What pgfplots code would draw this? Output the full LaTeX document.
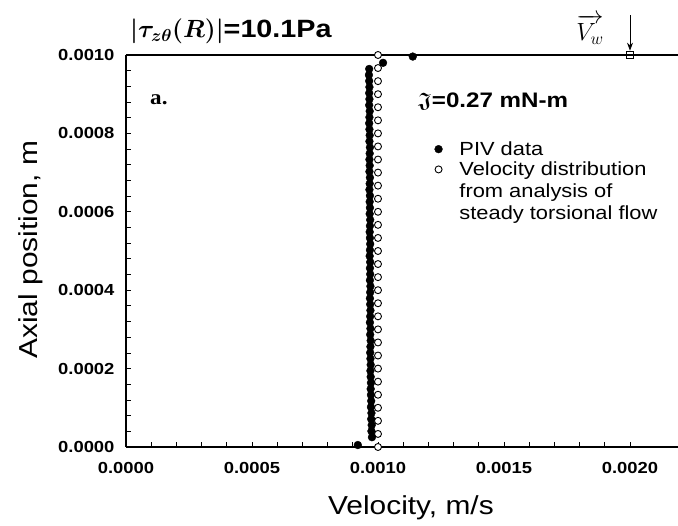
\documentclass[border=0pt]{standalone}
\usepackage{amsmath}
\usepackage{amssymb}
\usepackage{pgfplots}
\pgfplotsset{compat=1.18}
\usetikzlibrary{arrows.meta}
\usepackage{fontspec}
\setmainfont{Liberation Sans}[FakeStretch=1.15]
\newfontfamily\seriffont{Liberation Serif}[FakeStretch=1.1]

\newcommand\stresstext{{\fontsize{25}{25}\selectfont$\boldsymbol{\lvert\tau_{z\theta}(R)\rvert}$\bfseries=10.1Pa}}
\newcommand\torquetext{{\fontsize{21}{21}\selectfont$\boldsymbol{\mathfrak{J}}$\bfseries=0.27 mN-m}}
\newcommand\paneltext{{\seriffont\bfseries\fontsize{21}{21}\selectfont a.}}
\newcommand\walltext{{\fontsize{23}{23}\selectfont$\overrightarrow{V_w}$}}

\begin{document}
\begin{tikzpicture}[x=1pt,y=1pt]
\useasboundingbox (0,0) rectangle (678,526);
\begin{axis}[
  at={(126pt,79pt)}, anchor=south west,
  scale only axis,
  width=554.4pt, height=392pt,
  xmin=0, xmax=0.0022,
  ymin=0, ymax=0.0010,
  axis x line=box, axis y line=left,
  y axis line style={-},
  axis line style={line width=1.6pt},
  xtick={0,0.0005,0.0010,0.0015,0.0020},
  ytick={0,0.0002,0.0004,0.0006,0.0008,0.0010},
  minor x tick num=4, minor y tick num=4,
  xtick pos=bottom, ytick pos=left,
  tick align=inside,
  major tick length=5pt, minor tick length=5pt,
  tick style={line width=0.8pt, black},
  scaled ticks=false,
  /pgf/number format/.cd, fixed, fixed zerofill, precision=4, assume math mode=true,
  /pgfplots/.cd,
  ticklabel style={font=\bfseries\fontsize{16}{16}\selectfont},
  xticklabel style={yshift=-12pt},
  yticklabel style={xshift=-8pt},
  xlabel={Velocity, m/s},
  ylabel={Axial position, m},
  label style={font=\fontsize{26}{26}\selectfont},
  xlabel style={at={(axis description cs:0.514,0)}, anchor=base, yshift=-68pt},
  ylabel style={at={(axis description cs:0,0.503)}, anchor=base, yshift=88pt},
  clip=false,
  legend style={draw=none, fill=none, at={(axis description cs:0.551,0.79)}, anchor=north west,
    font=\fontsize{19}{22}\selectfont, row sep=1pt,
    /tikz/every odd column/.append style={column sep=15pt}},
  legend cell align=left,
  reverse legend,
]
% analytical steady torsional flow profile
\addplot[only marks, mark=*, mark size=3.5pt, mark options={fill=white, draw=black, line width=0.9pt}]
  coordinates {
  (0.0010,0.0000000) (0.0010,0.0000333) (0.0010,0.0000667) (0.0010,0.0001000)
  (0.0010,0.0001333) (0.0010,0.0001667) (0.0010,0.0002000) (0.0010,0.0002333)
  (0.0010,0.0002667) (0.0010,0.0003000) (0.0010,0.0003333) (0.0010,0.0003667)
  (0.0010,0.0004000) (0.0010,0.0004333) (0.0010,0.0004667) (0.0010,0.0005000)
  (0.0010,0.0005333) (0.0010,0.0005667) (0.0010,0.0006000) (0.0010,0.0006333)
  (0.0010,0.0006667) (0.0010,0.0007000) (0.0010,0.0007333) (0.0010,0.0007667)
  (0.0010,0.0008000) (0.0010,0.0008333) (0.0010,0.0008667) (0.0010,0.0009000)
  (0.0010,0.0009333) (0.0010,0.0009667) (0.0010,0.0010000)
  };
\addlegendentry{\parbox[t]{7cm}{Velocity distribution\\from analysis of\\steady torsional flow}}
% PIV measurements
\addplot[only marks, mark=*, mark size=3.9pt, mark options={fill=black, draw=black}]
  coordinates {
  (0.000920,0.0000050)
  (0.000976,0.0000250) (0.000974,0.0000404) (0.000975,0.0000558) (0.000973,0.0000712)
  (0.000974,0.0000866) (0.000972,0.0001020) (0.000973,0.0001174) (0.000972,0.0001328)
  (0.000971,0.0001482) (0.000972,0.0001636) (0.000971,0.0001790) (0.000970,0.0001944)
  (0.000971,0.0002098) (0.000970,0.0002252) (0.000969,0.0002406) (0.000970,0.0002560)
  (0.000971,0.0002714) (0.000969,0.0002868) (0.000970,0.0003022) (0.000968,0.0003176)
  (0.000969,0.0003330) (0.000970,0.0003484) (0.000969,0.0003638) (0.000968,0.0003792)
  (0.000969,0.0003946) (0.000970,0.0004100) (0.000968,0.0004254) (0.000969,0.0004408)
  (0.000968,0.0004562) (0.000969,0.0004716) (0.000967,0.0004870) (0.000968,0.0005024)
  (0.000969,0.0005178) (0.000968,0.0005332) (0.000967,0.0005486) (0.000968,0.0005640)
  (0.000969,0.0005794) (0.000967,0.0005948) (0.000968,0.0006102) (0.000967,0.0006256)
  (0.000968,0.0006410) (0.000966,0.0006564) (0.000967,0.0006718) (0.000968,0.0006872)
  (0.000966,0.0007026) (0.000967,0.0007180) (0.000966,0.0007334) (0.000967,0.0007488)
  (0.000968,0.0007642) (0.000966,0.0007796) (0.000967,0.0007950) (0.000966,0.0008104)
  (0.000965,0.0008258) (0.000966,0.0008412) (0.000967,0.0008566) (0.000965,0.0008720)
  (0.000966,0.0008874) (0.000965,0.0009028) (0.000966,0.0009182) (0.000965,0.0009336)
  (0.000964,0.0009490) (0.000965,0.0009644)
  (0.001020,0.0009800) (0.001138,0.0009960)
  };
\addlegendentry{PIV data}
% wall velocity
\addplot[only marks, mark=square, mark size=3.2pt, mark options={draw=black, fill=white, line width=0.8pt}, forget plot]
  coordinates {(0.0020,0.0010)};
\draw[-{Stealth[length=8pt,width=6pt]}, line width=0.9pt] (axis cs:0.0020,0.001102) -- (axis cs:0.0020,0.001011);
\end{axis}
% annotations
\node[anchor=base west, inner sep=0pt] at (130,488) {\stresstext};
\node[anchor=base west, inner sep=0pt] at (150,421) {\paneltext};
\node[anchor=base west, inner sep=0pt] at (418,418) {\torquetext};
\node[anchor=base, inner sep=0pt] at (590,485) {\walltext};
\end{tikzpicture}
\end{document}
